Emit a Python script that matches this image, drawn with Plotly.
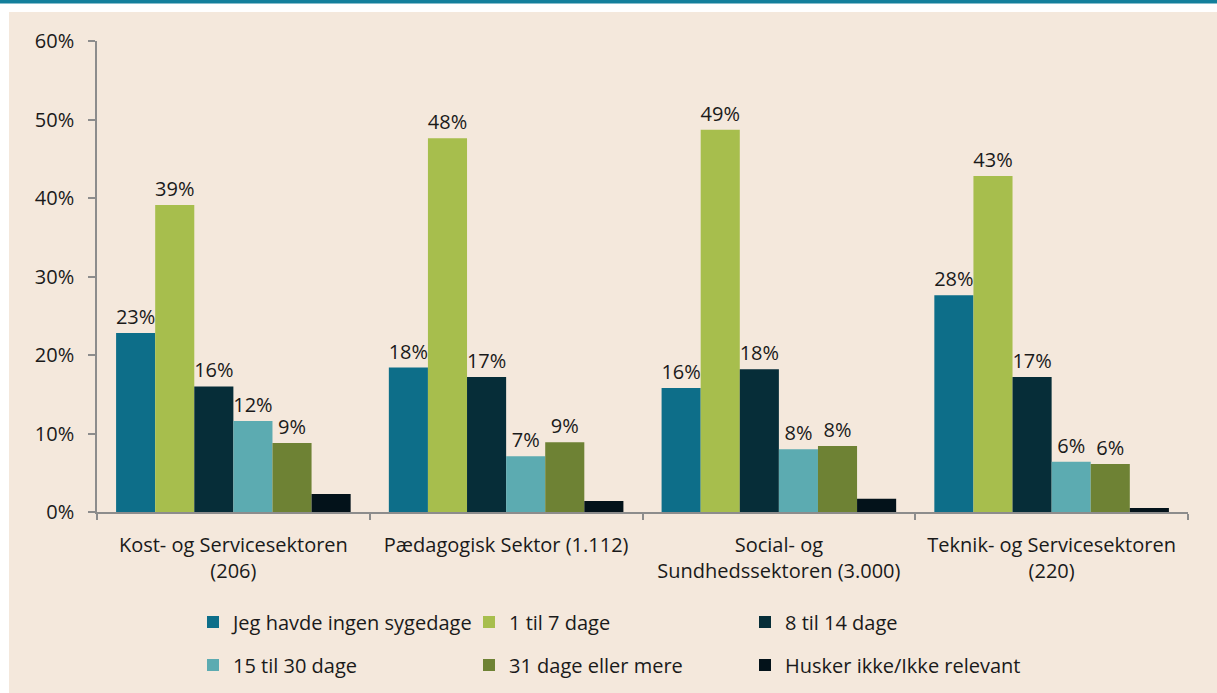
import plotly.graph_objects as go

categories = [
    "Kost- og Servicesektoren<br>(206)",
    "Pædagogisk Sektor (1.112)",
    "Social- og<br>Sundhedssektoren (3.000)",
    "Teknik- og Servicesektoren<br>(220)",
]
series_names = [
    "Jeg havde ingen sygedage",
    "1 til 7 dage",
    "8 til 14 dage",
    "15 til 30 dage",
    "31 dage eller mere",
    "Husker ikke/Ikke relevant",
]
ingen = [0.228, 0.184, 0.158, 0.276]
dage_1_7 = [0.391, 0.476, 0.487, 0.428]
dage_8_14 = [0.160, 0.172, 0.182, 0.172]
dage_15_30 = [0.116, 0.071, 0.080, 0.064]
dage_31 = [0.088, 0.089, 0.084, 0.061]
husker_ikke = [0.023, 0.014, 0.017, 0.005]
series_values = [ingen, dage_1_7, dage_8_14, dage_15_30, dage_31, husker_ikke]
show_labels = [True, True, True, True, True, False]
colors = ["#0D6E89", "#A7BE4D", "#062D38", "#5CABB1", "#6E8234", "#03121A"]
y_ticks = [0, 0.1, 0.2, 0.3, 0.4, 0.5, 0.6]

W, H = 1217, 693
ML, MR, MT, MB = 97, 29, 41, 181
PW, PH = W - ML - MR, H - MT - MB
FONT = "Open Sans, Noto Sans, sans-serif"
FS = 20
TXT = "#1A1A1A"
BEIGE = "#F4E8DC"


def fx(p):
    return (p - ML) / PW


def fy(p):
    return (H - MB - p) / PH


fig = go.Figure()
for i, (name, vals) in enumerate(zip(series_names, series_values)):
    fig.add_trace(go.Bar(
        x=categories, y=vals, name=name,
        marker=dict(color=colors[i], line=dict(width=0)),
        texttemplate="%{y:.0%}" if show_labels[i] else None,
        textposition="outside" if show_labels[i] else "none",
        textfont=dict(family=FONT, size=FS, color=TXT),
        constraintext="none",
        cliponaxis=False,
        legend="legend" if i < 3 else "legend2",
        hoverinfo="skip",
    ))

legend_common = dict(orientation="h", xanchor="left", yanchor="middle",
                     entrywidth=231, entrywidthmode="pixels", bgcolor="rgba(0,0,0,0)",
                     font=dict(family=FONT, size=FS, color=TXT), traceorder="normal")

fig.update_layout(
    width=W, height=H,
    margin=dict(l=ML, r=MR, t=MT, b=MB, autoexpand=False),
    paper_bgcolor=BEIGE, plot_bgcolor=BEIGE,
    barmode="group", bargap=0.14, bargroupgap=0,
    font=dict(family=FONT, size=FS, color=TXT),
    showlegend=True,
    legend=dict(x=fx(193), y=fy(622), **legend_common),
    legend2=dict(x=fx(193), y=fy(665), **legend_common),
    xaxis=dict(showline=True, linecolor="#8C8C8C", linewidth=1.5,
               ticks="outside", tickson="boundaries", ticklen=6, tickcolor="#8C8C8C", tickwidth=1.5,
               tickfont=dict(family=FONT, size=FS, color=TXT), ticklabelstandoff=14,
               showgrid=False, zeroline=False),
    yaxis=dict(range=[0, 0.6], tickvals=y_ticks, tickformat=".0%",
               showline=True, linecolor="#8C8C8C", linewidth=1.5,
               ticks="outside", ticklen=7, tickcolor="#8C8C8C", tickwidth=1.5,
               tickfont=dict(family=FONT, size=FS, color=TXT), ticklabelstandoff=10,
               showgrid=False, zeroline=False),
    shapes=[
        dict(type="rect", xref="paper", yref="paper", x0=fx(0), x1=fx(W), y0=fy(12), y1=fy(0),
             fillcolor="white", line=dict(width=0), layer="below"),
        dict(type="rect", xref="paper", yref="paper", x0=fx(0), x1=fx(9), y0=fy(H), y1=fy(0),
             fillcolor="white", line=dict(width=0), layer="below"),
        dict(type="rect", xref="paper", yref="paper", x0=fx(0), x1=fx(W), y0=fy(3.5), y1=fy(0),
             fillcolor="#137F9B", line=dict(width=0), layer="below"),
    ],
)

fig.write_html("out.html", config={"displayModeBar": False},
               post_script="document.body.style.margin='0';document.body.style.overflow='hidden';")
